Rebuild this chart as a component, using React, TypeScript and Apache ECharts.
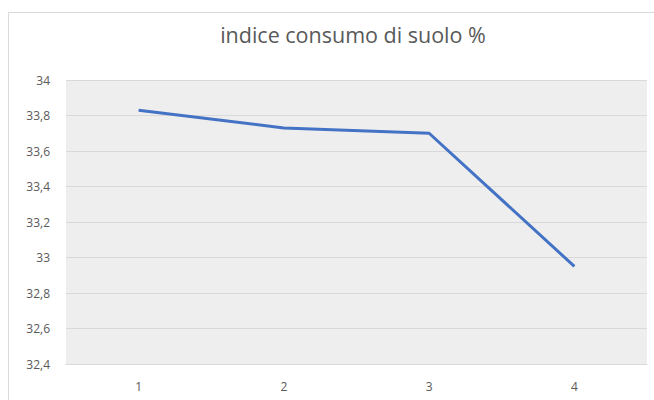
import React, { useEffect, useRef } from "react";
import * as echarts from "echarts";

const categories = ["1", "2", "3", "4"];
const values = [33.83, 33.73, 33.70, 32.95];
const yMin = 32.4;
const yMax = 34;
const yStep = 0.2;
const titleText = "indice consumo di suolo %";

export default function App() {
  const ref = useRef<HTMLDivElement>(null);
  useEffect(() => {
    document.body.style.margin = "0";
    const chart = echarts.init(ref.current!, undefined, { renderer: "svg" });
    chart.setOption({
      animation: false,
      backgroundColor: "#ffffff",
      title: {
        text: titleText,
        left: 348,
        textAlign: "center",
        top: 18,
        textStyle: { fontFamily: "Open Sans", fontSize: 21.5, fontWeight: "normal", color: "#595959" },
      },
      graphic: [
        {
          type: "rect",
          shape: { x: 8.5, y: 12.5, width: 700, height: 500 },
          style: { fill: "none", stroke: "#d9d9d9", lineWidth: 1 },
          z: -10,
        },
      ],
      grid: {
        left: 66,
        right: 7,
        top: 80,
        bottom: 36,
        show: true,
        backgroundColor: "#eeeeee",
        borderWidth: 0,
      },
      xAxis: {
        type: "category",
        data: categories,
        axisLine: { show: true, lineStyle: { color: "#d9d9d9", width: 1 } },
        axisTick: { show: false },
        axisLabel: { color: "#595959", fontSize: 12, fontFamily: "Open Sans", margin: 16 },
      },
      yAxis: {
        type: "value",
        min: yMin,
        max: yMax,
        interval: yStep,
        axisLine: { show: false },
        axisTick: { show: false },
        splitLine: { lineStyle: { color: "#d9d9d9", width: 1 } },
        axisLabel: {
          color: "#595959",
          fontSize: 12,
          fontFamily: "Open Sans",
          margin: 16,
          formatter: (v: number) => {
            const r = Math.round(v * 10) / 10;
            return String(r).replace(".", ",");
          },
        },
      },
      series: [
        {
          type: "line",
          data: values,
          symbol: "none",
          lineStyle: { color: "#4472c4", width: 3 },
        },
      ],
    });
    return () => chart.dispose();
  }, []);
  return <div ref={ref} style={{ width: 654, height: 400 }} />;
}
